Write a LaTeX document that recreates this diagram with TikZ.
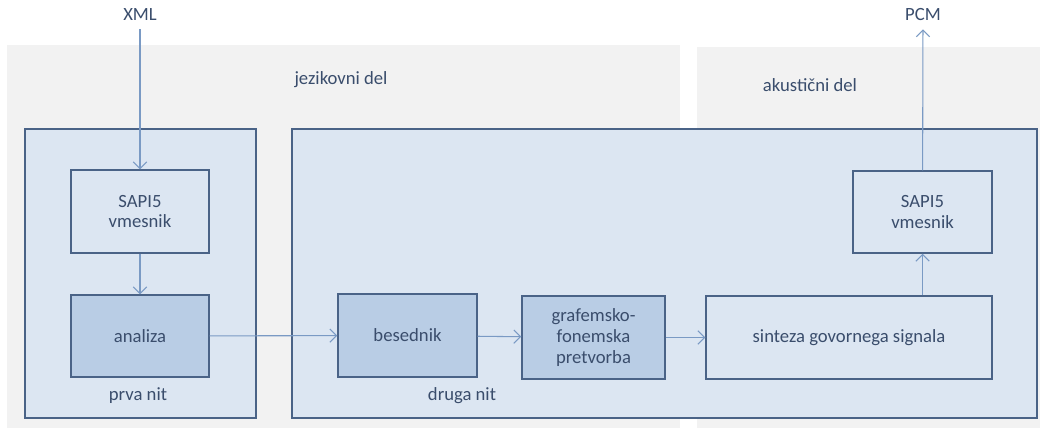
\documentclass[tikz,border=0pt]{standalone}
\usepackage{fontspec}
\setmainfont{Carlito}
\usetikzlibrary{arrows.meta}

\definecolor{panelgray}{HTML}{F2F2F2}
\definecolor{boxfill}{HTML}{DCE6F2}
\definecolor{boxdark}{HTML}{B9CDE5}
\definecolor{boxline}{HTML}{4A6387}
\definecolor{flowline}{HTML}{7A9AC4}
\definecolor{txt}{HTML}{3A4D6C}

\tikzset{
  panel/.style={fill=panelgray, draw=none},
  thread/.style={draw=boxline, line width=1pt, fill=boxfill},
  block/.style={draw=boxline, line width=1.1pt, fill=boxfill, text=txt, align=center,
    inner sep=0pt, font=\fontsize{14}{15.4}\selectfont},
  darkblock/.style={block, fill=boxdark},
  lbl/.style={text=txt, font=\fontsize{14}{15.4}\selectfont, inner sep=1pt},
  flow/.style={draw=flowline, line width=0.8pt, -{Straight Barb[length=5pt,width=10pt]}}
}

\begin{document}
\begin{tikzpicture}[x=0.75pt, y=-0.75pt]
\useasboundingbox (0,0) rectangle (1044,431);
\fill[white] (0,0) rectangle (1044,431);
%----------------- gray areas -----------------
\fill[panel] (7,45) rectangle (680,428);
\fill[panel] (697,47) rectangle (1040,428);
\node[lbl] (jezik) at (341,80) {jezikovni del};
\node[lbl] (akust) at (810,85) {akustični del};
%----------------- threads -----------------
\draw[thread] (25,129) rectangle (256,418);
\draw[thread] (292,129) rectangle (1037,418);
\node[lbl] (prva) at (138,396) {prva nit};
\node[lbl] (druga) at (462,396) {druga nit};
%----------------- blocks -----------------
\node[block, minimum width=103.5pt, minimum height=62.25pt] (sapiL) at (140,211.5) {SAPI5\\vmesnik};
\node[darkblock, minimum width=103.5pt, minimum height=61.5pt] (analiza) at (140,336) {analiza};
\node[darkblock, minimum width=104.25pt, minimum height=62.25pt] (besednik) at (407.5,335.5) {besednik};
\node[darkblock, minimum width=107.25pt, minimum height=62.25pt] (grafem) at (593.5,337.5) {grafemsko-\\fonemska\\pretvorba};
\node[block, minimum width=214.5pt, minimum height=62.25pt] (sinteza) at (849,337.5) {sinteza govornega signala};
\node[block, minimum width=104.25pt, minimum height=61.5pt] (sapiR) at (922.5,212) {SAPI5\\vmesnik};
% input / output
\node[lbl, inner sep=6pt] (xml) at (140,15) {XML};
\node[lbl, inner sep=6pt] (pcm) at (923,15) {PCM};
%----------------- connectors -----------------
\draw[flow] (xml) -- (sapiL);
\draw[flow] (sapiL) -- (analiza);
\draw[flow] (analiza) -- (besednik);
\draw[flow] (besednik) -- (grafem);
\draw[flow] (grafem.east) -- (sinteza.west);
\draw[flow] (sapiR.south |- sinteza.north) -- (sapiR.south);
\draw[flow] (sapiR) -- (pcm);
\end{tikzpicture}
\end{document}
